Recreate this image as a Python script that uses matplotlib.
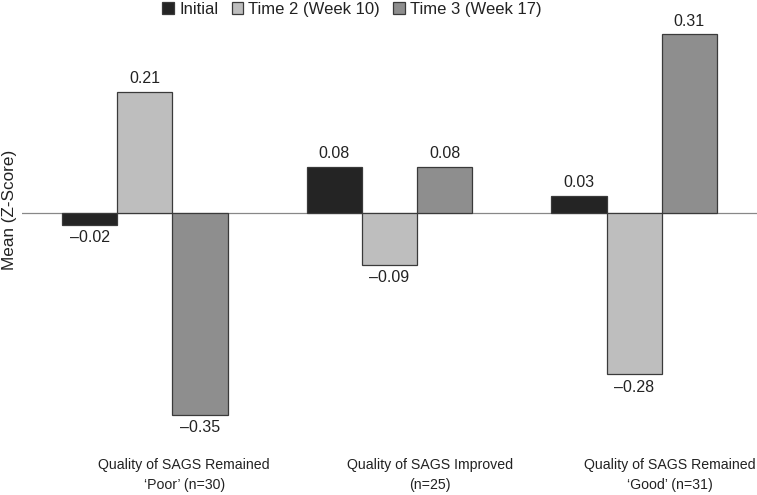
import matplotlib
matplotlib.use("Agg")
import matplotlib.pyplot as plt
import numpy as np

plt.rcParams['font.family'] = ['Liberation Sans', 'DejaVu Sans']

categories = ["Quality of SAGS Remained\n\u2018Poor\u2019 (n=30)",
              "Quality of SAGS Improved\n(n=25)",
              "Quality of SAGS Remained\n\u2018Good\u2019 (n=31)"]
series = ["Initial", "Time 2 (Week 10)", "Time 3 (Week 17)"]
initial = [-0.02, 0.08, 0.03]
time2 = [0.21, -0.09, -0.28]
time3 = [-0.35, 0.08, 0.31]
colors = ["#242424", "#bebebe", "#8e8e8e"]

W, H = 757, 495
fig = plt.figure(figsize=(W/100, H/100), dpi=100)
ax_left, ax_right = 22, 757
zero_y = 213
scale = 576.0
ax_top, ax_bot = 25, 440
ax = fig.add_axes([ax_left/W, 1 - ax_bot/H, (ax_right-ax_left)/W, (ax_bot-ax_top)/H])
ax.set_ylim(-(ax_bot-zero_y)/scale, (zero_y-ax_top)/scale)
ax.set_xlim(-0.503, 2.503)

x = np.arange(len(categories))
bw = 0.225
data = [initial, time2, time3]
for i, (vals, name, c) in enumerate(zip(data, series, colors)):
    pos = x + (i-1)*bw
    ax.bar(pos, vals, width=bw, color=c, edgecolor="#3a3a3a", linewidth=0.9, label=name, zorder=3)
    for p, v in zip(pos, vals):
        txt = f"{abs(v):.2f}"
        if v < 0:
            ax.annotate("\u2013" + txt, (p, v), xytext=(0, -4), textcoords="offset points",
                        ha="center", va="top", fontsize=11.5, color="#222222")
        else:
            ax.annotate(txt, (p, v), xytext=(0, 4), textcoords="offset points",
                        ha="center", va="bottom", fontsize=11.5, color="#222222")

ax.axhline(0, color="#888888", linewidth=0.9, zorder=2)
for s in ax.spines.values():
    s.set_visible(False)
ax.set_xticks([])
ax.set_yticks([])

# category labels (offset to the right of the group centres as in the reference)
offsets = [0.16, 0.165, 0.145]
for xi, lab, off in zip(x, categories, offsets):
    fig.text((ax_left + (xi + off + 0.503)*(ax_right-ax_left)/3.006)/W, 1 - 458/H, lab,
             ha="center", va="top", fontsize=10.2, color="#222222", linespacing=1.55)

fig.text(10/W, 1 - 210/H, "Mean (Z-Score)", rotation=90, ha="center", va="center",
         fontsize=12.3, color="#222222")

fig.legend(loc="upper center", bbox_to_anchor=(352/W, 1.026), ncol=3, frameon=False,
           fontsize=12, handlelength=0.7, handleheight=0.7, handletextpad=0.3,
           columnspacing=0.8, labelcolor="#222222")

fig.savefig("out.png", dpi=100)
